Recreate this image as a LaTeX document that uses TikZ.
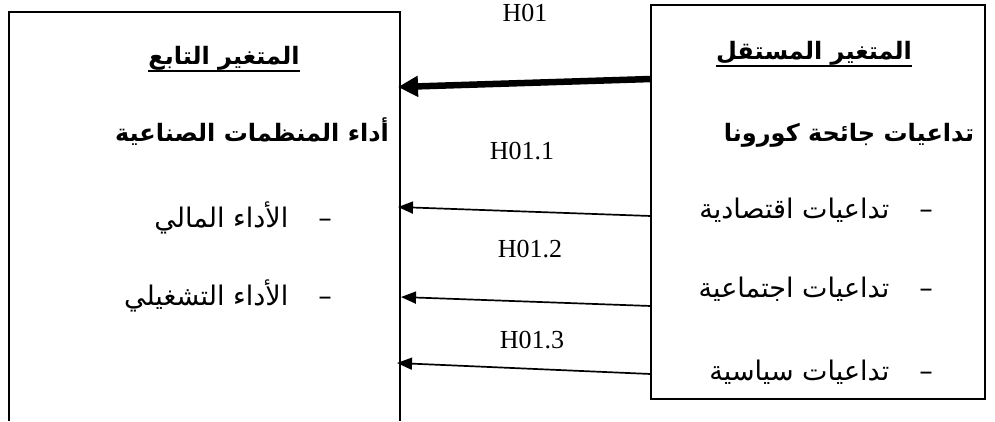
\documentclass[tikz,border=0pt]{standalone}
\usepackage{fontspec}
\setmainfont{Liberation Serif}
\newfontfamily\arabicfont[Script=Arabic]{DejaVu Sans}
\TeXXeTstate=1
\usetikzlibrary{arrows.meta}
\begin{document}
\begin{tikzpicture}[x=1pt,y=-1pt,
  ar/.style={font=\arabicfont\fontsize{27}{31}\selectfont, inner sep=0pt},
  arb/.style={font=\arabicfont\bfseries\fontsize{24}{28}\selectfont, inner sep=0pt},
  hlab/.style={font=\fontsize{26}{30}\selectfont, inner sep=0pt},
  thin/.style={line width=1.7pt, -{Triangle[length=15pt,width=12pt]}},
  thick/.style={line width=6.5pt, -{Triangle[length=20pt,width=20pt]}},
  box/.style={line width=1.7pt},
  uline/.style={line width=1.6pt}]
\useasboundingbox (0,0) rectangle (995,421);
% boxes
\coordinate (L1) at (9,421);
\coordinate (L2) at (9,12);
\coordinate (L3) at (400,12);
\coordinate (L4) at (400,421);
\draw[box] (L1) -- (L2) -- (L3) -- (L4);
\coordinate (R1) at (651,5);
\coordinate (R2) at (985,399);
\draw[box] (R1) rectangle (R2);
% left texts
\node[arb, anchor=base] (lt) at (224,64) {\beginR المتغير التابع\endR};
\draw[uline] ([yshift=-7pt]lt.base west) -- ([yshift=-7pt]lt.base east);
\node[arb, anchor=base] (lh) at (252,141) {\beginR أداء المنظمات الصناعية\endR};
\node[ar, anchor=base east] (l1) at (332,227) {\beginR –\hspace{30pt}الأداء المالي\endR};
\node[ar, anchor=base east] (l2) at (332,305) {\beginR –\hspace{30pt}الأداء التشغيلي\endR};
% right texts
\node[arb, anchor=base] (rt) at (814,59) {\beginR المتغير المستقل\endR};
\draw[uline] ([yshift=-7pt]rt.base west) -- ([yshift=-7pt]rt.base east);
\node[arb, anchor=base] (rh) at (849,141) {\beginR تداعيات جائحة كورونا\endR};
\node[ar, anchor=base east] (r1) at (933,218) {\beginR –\hspace{30pt}تداعيات اقتصادية\endR};
\node[ar, anchor=base east] (r2) at (933,297) {\beginR –\hspace{30pt}تداعيات اجتماعية\endR};
\node[ar, anchor=base east] (r3) at (933,380) {\beginR –\hspace{30pt}تداعيات سياسية\endR};
% arrow end points
\coordinate (a0s) at (651,79);
\coordinate (a0e) at (398,87);
\coordinate (a1s) at (651,216);
\coordinate (a1e) at (398,207);
\coordinate (a2s) at (651,306);
\coordinate (a2e) at (401,297);
\coordinate (a3s) at (651,374);
\coordinate (a3e) at (397,363);
\draw[thick] (a0s) -- (a0e);
\draw[thin] (a1s) -- (a1e);
\draw[thin] (a2s) -- (a2e);
\draw[thin] (a3s) -- (a3e);
% labels
\node[hlab] (h0) at (525,13) {H01};
\node[hlab] (h1) at (522,151) {H01.1};
\node[hlab] (h2) at (530,249) {H01.2};
\node[hlab] (h3) at (532,340) {H01.3};
\end{tikzpicture}
\end{document}
